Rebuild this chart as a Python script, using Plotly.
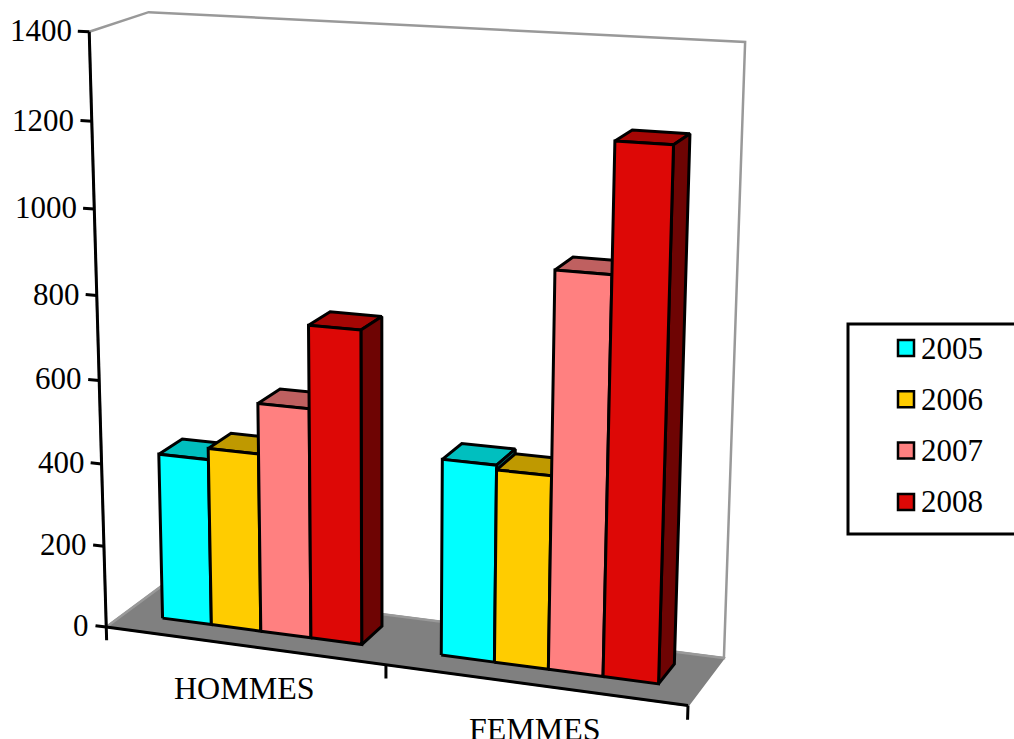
import numpy as np
import plotly.graph_objects as go

categories = ["HOMMES", "FEMMES"]
years = ["2005", "2006", "2007", "2008"]
v2005 = [405, 466]
v2006 = [432, 455]
v2007 = [552, 920]
v2008 = [747, 1210]
tick_vals = [0, 200, 400, 600, 800, 1000, 1200, 1400]
front = ["#00FFFF", "#FFCC00", "#FF8080", "#DD0806"]
top = ["#00BFBF", "#BF9900", "#BF6060", "#A50604"]
side = ["#007F7F", "#7F6600", "#7F4040", "#6E0403"]
series = [v2005, v2006, v2007, v2008]

# Perspective view of the chart box: x = category position (0..2), y = depth (0..1), z = value
CAMERA = np.array([[265.3755, 61.93873, -0.01582142, 106.2546],
                   [13.08174, -17.96501, -0.4265558, 627.1095],
                   [-0.03706713, 0.03964357, -4.085855e-05, 1.0]])
BAR_WIDTHS = [0.18, 0.182]
DEPTH = (0.33, 0.755)
STARTS = [0.14, 1.137]
LABEL_X = [0.5, 1.505]


def pr(x, y, z):
    q = CAMERA @ np.array([x, y, z, 1.0])
    return q[0] / q[2], q[1] / q[2]


fig = go.Figure()


def poly(pts, fill, color="black", w=3):
    xy = [pr(*p) for p in pts] + [pr(*pts[0])]
    fig.add_trace(go.Scatter(x=[a for a, _ in xy], y=[b for _, b in xy], mode="lines",
                             fill="toself" if fill else None, fillcolor=fill,
                             line=dict(color=color, width=w), hoverinfo="skip", showlegend=False))


def seg(a, b):
    xy = [pr(*a), pr(*b)]
    fig.add_trace(go.Scatter(x=[p[0] for p in xy], y=[p[1] for p in xy], mode="lines",
                             line=dict(color="black", width=3), hoverinfo="skip", showlegend=False))


zmax = tick_vals[-1]
poly([(0, 0, 0), (2, 0, 0), (2, 1, 0), (0, 1, 0)], "#808080", "#808080", 2)
poly([(0, 0, zmax), (0, 1, zmax), (2, 1, zmax), (2, 1, 0), (0, 1, 0), (0, 0, 0)], None, "#999999", 2.5)
d0, d1 = DEPTH
for c in range(len(categories)):
    for s in range(len(years)):
        x0 = STARTS[c] + s * BAR_WIDTHS[c]
        x1 = x0 + BAR_WIDTHS[c]
        h = series[s][c]
        poly([(x0, d0, h), (x1, d0, h), (x1, d1, h), (x0, d1, h)], top[s])
        poly([(x1, d0, 0), (x1, d1, 0), (x1, d1, h), (x1, d0, h)], side[s])
        poly([(x0, d0, 0), (x1, d0, 0), (x1, d0, h), (x0, d0, h)], front[s])
seg((0, 0, zmax), (0, 0, 0))
seg((0, 0, 0), (2, 0, 0))
for t in tick_vals:
    seg((0, 0, t), (-0.04, 0, t))
for q in [0, 1, 2]:
    seg((q, 0, 0), (q, 0, -33))

font = dict(family="Liberation Serif", size=31, color="black")
font_cat = dict(family="Liberation Serif", size=32, color="black")
anns = []
for t in tick_vals:
    u, v = pr(-0.055, 0, t)
    anns.append(dict(x=u, y=v, text=str(t), showarrow=False, xanchor="right", yanchor="middle", font=font))
for x, c in zip(LABEL_X, categories):
    u, v = pr(x, 0, -104)
    anns.append(dict(x=u, y=v, text=c, showarrow=False, font=font_cat))

shapes = [dict(type="rect", x0=848, x1=1040, y0=324, y1=534, line=dict(color="black", width=3),
               fillcolor="white", layer="below")]
for i, y in enumerate(years):
    yc = 348 + i * 51.3
    shapes.append(dict(type="rect", x0=898, x1=914, y0=yc - 8, y1=yc + 8,
                       line=dict(color="black", width=2.5), fillcolor=front[i]))
    anns.append(dict(x=919, y=yc, text=y, showarrow=False, xanchor="left", yanchor="middle", font=font))

fig.update_layout(width=1014, height=739, margin=dict(l=0, r=0, t=0, b=0), showlegend=False,
                  paper_bgcolor="white", plot_bgcolor="white",
                  xaxis=dict(range=[0, 1014], visible=False), yaxis=dict(range=[739, 0], visible=False),
                  annotations=anns, shapes=shapes)
fig.write_html("out.html", config={"displayModeBar": False}, post_script="document.body.style.margin='0';")
